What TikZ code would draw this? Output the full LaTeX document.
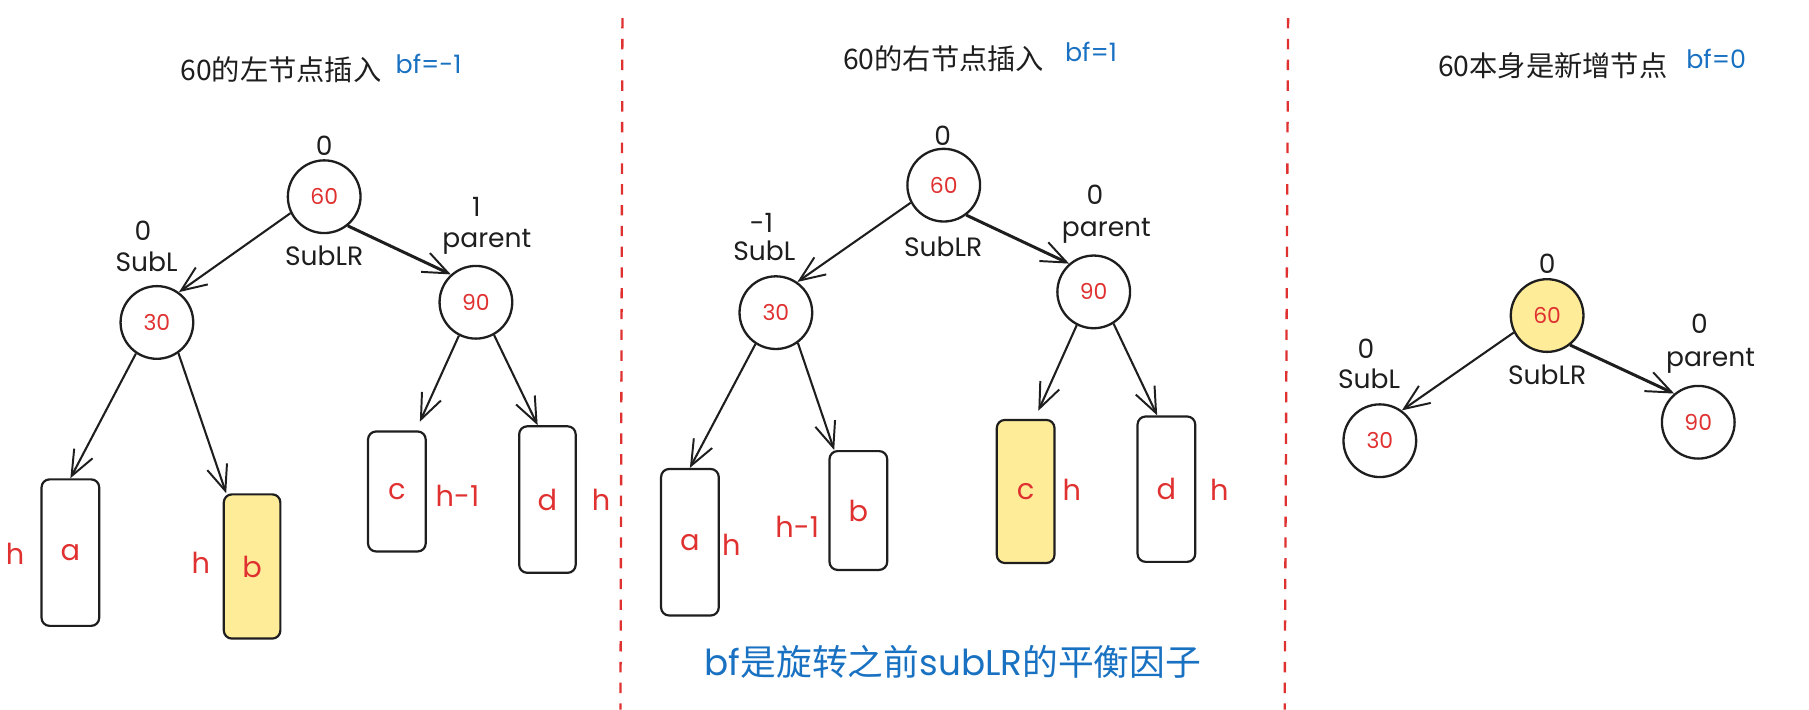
\documentclass[tikz,border=0pt]{standalone}
\usepackage{fontspec}
\setmainfont{Poppins}
\newfontfamily\cjkf{Noto Sans CJK SC}
\usetikzlibrary{arrows.meta}
\definecolor{ink}{HTML}{1E1E1E}
\definecolor{redt}{HTML}{E03131}
\definecolor{bluet}{HTML}{1971C2}
\definecolor{yel}{HTML}{FFEC99}
\begin{document}
\begin{tikzpicture}[x=1pt,y=-1pt,
  circ/.style={circle, draw=ink, line width=2pt, minimum size=63pt, inner sep=0pt, text=redt, font=\fontsize{19}{22}\selectfont},
  bx/.style={rectangle, rounded corners=7pt, draw=ink, line width=1.9pt, inner sep=0pt, text=redt, font=\fontsize{25}{30}\selectfont},
  lbl/.style={inner sep=0pt, text=ink, font=\fontsize{23}{27}\selectfont},
  hl/.style={inner sep=0pt, text=redt, font=\fontsize{25}{30}\selectfont},
  ttl/.style={inner sep=0pt, text=ink, font=\cjkf\fontsize{24.5}{30}\selectfont},
  bfl/.style={inner sep=0pt, text=bluet, font=\fontsize{22}{26}\selectfont},
  arr/.style={draw=ink, line width=1.8pt, -{Straight Barb[length=22pt,width=18pt,line width=1.7pt]}},
  arrb/.style={arr, line width=2.6pt},
  sep/.style={draw=redt, line width=2pt, dash pattern=on 9pt off 9pt}
]
\useasboundingbox (0,0) rectangle (1568,615);

% separators
\draw[sep] (539.5,15.7) -- (537.8,615);
\draw[sep] (1116.5,15.7) -- (1113.5,615);

% ================= Panel 1 =================
\node[ttl] (t1) at (243.5,60.5) {60的左节点插入};
\node[bfl] (bf1) at (371.5,55) {bf=-1};

\node[circ] (Ap) at (281,170.5) {60};
\node[circ] (Al) at (136,279.5) {30};
\node[circ] (Ar) at (412.5,262) {90};

\node[lbl] (Ap0) at (281,126) {0};
\node[lbl] (ApL) at (281,221.5) {SubLR};
\node[lbl] (Al0) at (124,200) {0};
\node[lbl] (AlL) at (127,226.6) {SubL};
\node[lbl] (Ar0) at (413,179.5) {1};
\node[lbl] (ArL) at (422,210) {parent};

\node[bx, minimum width=50pt, minimum height=127pt] (Aa) at (61,479) {a};
\node[bx, fill=yel, minimum width=49pt, minimum height=125pt] (Ab) at (218.5,491) {b};
\node[bx, minimum width=50pt, minimum height=104pt] (Ac) at (344,426) {c};
\node[bx, minimum width=49pt, minimum height=127pt] (Ad) at (474.5,433) {d};

\node[hl] (Aah) at (13,480) {h};
\node[hl] (Abh) at (174,488) {h};
\node[hl] (Ach) at (396.5,430) {h-1};
\node[hl] (Adh) at (521,433) {h};

\draw[arr] (Ap.206) -- (Al.54);
\draw[arrb] (Ap.309) -- (Ar.132);
\draw[arr] (Al.236) -- (Aa.north);
\draw[arr] (Al.305) -- ([xshift=3pt]Ab.north west);
\draw[arr] (Ar.243) -- ([xshift=-6pt,yshift=7.5pt]Ac.north east);
\draw[arr] (Ar.299) -- ([xshift=-8.5pt]Ad.north);

% ================= Panel 2 =================
\node[ttl] (t2) at (818,51) {60的右节点插入};
\node[bfl] (bf2) at (945.7,45) {bf=1};

\node[circ] (Bp) at (818,160.5) {60};
\node[circ] (Bl) at (672.5,271) {30};
\node[circ] (Br) at (948,253) {90};

\node[lbl] (Bp0) at (817,117.6) {0};
\node[lbl] (BpL) at (817.5,213.6) {SubLR};
\node[lbl] (Bl0) at (660,193) {-1};
\node[lbl] (BlL) at (662.5,217.6) {SubL};
\node[lbl] (Br0) at (949,169) {0};
\node[lbl] (BrL) at (959,200) {parent};

\node[bx, minimum width=50pt, minimum height=127pt] (Ba) at (598,470) {a};
\node[bx, minimum width=50pt, minimum height=103pt] (Bb) at (744,442.5) {b};
\node[bx, fill=yel, minimum width=50pt, minimum height=124pt] (Bc) at (889,426) {c};
\node[bx, minimum width=50pt, minimum height=126pt] (Bd) at (1011,424) {d};

\node[hl] (Bah) at (634,472) {h};
\node[hl] (Bbh) at (691,456.7) {h-1};
\node[hl] (Bch) at (929,425) {h};
\node[hl] (Bdh) at (1057,425) {h};

\draw[arr] (Bp.208) -- (Bl.55);
\draw[arrb] (Bp.307) -- (Br.131);
\draw[arr] (Bl.237) -- (Ba.north);
\draw[arr] (Bl.306) -- ([xshift=5pt]Bb.north west);
\draw[arr] (Br.243) -- ([xshift=11pt,yshift=7pt]Bc.north);
\draw[arr] (Br.302) -- ([xshift=-8pt]Bd.north);

\node[inner sep=0pt, text=bluet, font=\fontsize{31}{36}\selectfont] (note) at (826,574) {bf{\cjkf 是旋转之前}subLR{\cjkf 的平衡因子}};

% ================= Panel 3 =================
\node[ttl] (t3) at (1346,57) {60本身是新增节点};
\node[bfl] (bf3) at (1487.5,51) {bf=0};

\node[circ, fill=yel] (Cp) at (1341,273.5) {60};
\node[circ] (Cl) at (1196,382) {30};
\node[circ] (Cr) at (1472,366) {90};

\node[lbl] (Cp0) at (1341,229) {0};
\node[lbl] (CpL) at (1341,324.6) {SubLR};
\node[lbl] (Cl0) at (1184,302.6) {0};
\node[lbl] (ClL) at (1186.6,328.5) {SubL};
\node[lbl] (Cr0) at (1473,281) {0};
\node[lbl] (CrL) at (1482.6,312.4) {parent};

\draw[arr] (Cp.207) -- (Cl.54);
\draw[arrb] (Cp.308) -- (Cr.130);
\end{tikzpicture}
\end{document}
